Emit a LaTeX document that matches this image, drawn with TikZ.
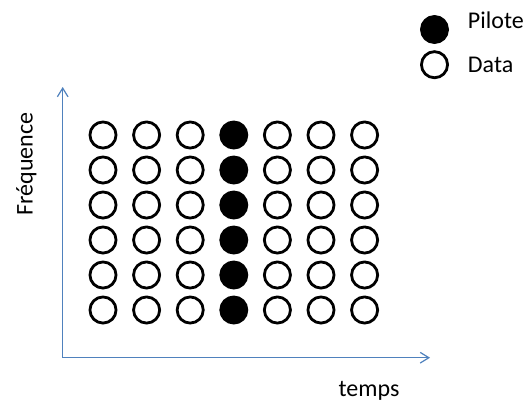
\documentclass[tikz,border=0pt]{standalone}
\usepackage{fontspec}
\setmainfont{Carlito}
\usetikzlibrary{arrows.meta}
\definecolor{axisblue}{HTML}{4F81BD}

\begin{document}
\begin{tikzpicture}[x=0.75pt,y=-0.75pt,
  sym/.style={circle,draw=black,line width=2.1pt,minimum size=19.6pt,inner sep=0pt},
  data/.style={sym,fill=white},
  pilot/.style={sym,fill=black},
  lbl/.style={font=\fontsize{18}{22}\selectfont,inner sep=0pt}]
  \useasboundingbox (0,0) rectangle (528,401);
  % axes
  \coordinate (origin) at (62.7,357.7);
  \coordinate (xend) at (430,357.7);
  \coordinate (yend) at (62.7,87);
  \draw[axisblue,line width=0.9pt,-{Straight Barb[length=6.5pt,width=8pt]}](origin)--(xend);
  \draw[axisblue,line width=0.9pt,-{Straight Barb[length=6.5pt,width=8pt]}](origin)--(yend);
  \node[lbl,anchor=base] (temps) at (369,396.7) {temps};
  \node[lbl,anchor=base,rotate=90] (freq) at (32.5,164) {Fréquence};
  % grid of symbols
  \foreach \i in {1,2,3,5,6,7}
    \foreach \j in {1,...,6}
      \node[data] (c\i\j) at ({103+(\i-1)*43.6},{135+(\j-1)*35}) {};
  \foreach \j in {1,...,6}
    \node[pilot] (c4\j) at ({103+3*43.6},{135+(\j-1)*35}) {};
  % legend
  \node[pilot] (legpilot) at (434.5,29.5) {};
  \node[data] (legdata) at (434.5,64.7) {};
  \node[lbl,anchor=base west] (txtpilot) at (467.7,28.3) {Pilote};
  \node[lbl,anchor=base west] (txtdata) at (467.7,72) {Data};
\end{tikzpicture}
\end{document}
